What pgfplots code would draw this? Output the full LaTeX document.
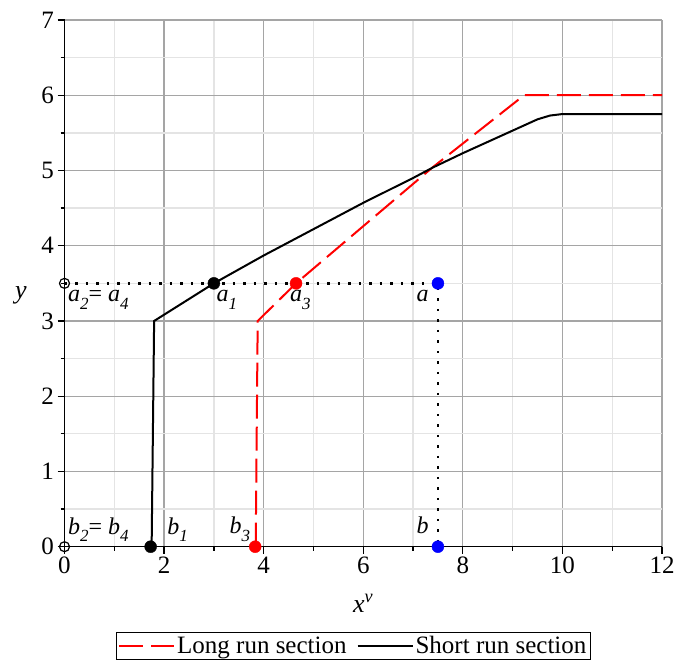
\documentclass[border=0pt]{standalone}
\usepackage{fontspec}
\setmainfont{Liberation Serif}
\usepackage{pgfplots}
\pgfplotsset{compat=1.18}
\definecolor{majgrid}{RGB}{165,165,165}
\definecolor{mingrid}{RGB}{228,228,228}
\newcommand{\lab}[2]{\textit{#1}\raisebox{-0.32em}{\fontsize{17}{17}\selectfont\textit{#2}}}

\begin{document}
\begin{tikzpicture}
\begin{axis}[
  scale only axis, width=597.5pt, height=526.7pt,
  xmin=0, xmax=12, ymin=0, ymax=7,
  axis lines=left, axis line style={-, line width=1.5pt},
  xtick={0,2,...,12}, ytick={0,1,...,7},
  minor xtick={1,3,...,11}, minor ytick={0.5,1.5,...,6.5},
  tick align=outside, major tick length=7pt, minor tick length=4pt,
  tick style={line width=1.3pt, black},
  grid=both,
  major grid style={majgrid, line width=1.3pt},
  minor grid style={mingrid, line width=1.3pt},
  ticklabel style={font=\rmfamily\fontsize{25}{25}\selectfont},
  /pgf/number format/assume math mode=true,
  clip=false,
  legend columns=2,
  legend style={at={(0.881,-0.162)}, anchor=north east, draw=black, line width=1pt,
    font=\fontsize{25}{28}\selectfont, inner sep=2pt,
    /tikz/every even column/.append style={column sep=8pt}},
  legend image code/.code={\draw[#1] (0pt,0pt) -- (55pt,0pt);},
]
\addplot[red, line width=2pt, dash pattern=on 24pt off 8pt] coordinates {
  (3.84,0) (3.88,3.0) (4.65,3.5) (5.68,4.08) (7.39,5.04) (9.23,6.0) (12,6.0)};
\addlegendentry{Long run section}
\addplot[black, line width=2pt] coordinates {
  (1.75,0) (1.80,3.0) (3,3.5) (4,3.87) (5,4.22) (6,4.57) (7,4.90) (7.4,5.04)
  (8,5.23) (9,5.53) (9.5,5.68) (9.75,5.73) (10,5.75) (12,5.75)};
\addlegendentry{Short run section}
\addplot[black, line width=2.5pt, dash pattern=on 2.5pt off 8pt, forget plot] coordinates {
  (0,3.5) (7.5,3.5) (7.5,0)};
\addplot[only marks, mark=*, mark size=6pt, black, forget plot] coordinates {(3,3.5) (1.73,0)};
\addplot[only marks, mark=*, mark size=6pt, red, forget plot] coordinates {(4.65,3.5) (3.83,0)};
\addplot[only marks, mark=*, mark size=6pt, blue, forget plot] coordinates {(7.5,3.5) (7.5,0)};
\addplot[only marks, mark=o, mark size=5pt, black, line width=1.2pt, forget plot] coordinates {(0,3.5) (0,0)};

\begin{scope}[every node/.style={inner sep=0pt, font=\fontsize{24}{24}\selectfont}]
\node[anchor=north west] at ([shift={(3.5pt,-7pt)}]axis cs:0,3.5) {\lab{a}{2}= \lab{a}{4}};
\node[anchor=north west] at ([shift={(2.5pt,-7pt)}]axis cs:3,3.5) {\lab{a}{1}};
\node[anchor=north west] at ([shift={(-6pt,-7pt)}]axis cs:4.65,3.5) {\lab{a}{3}};
\node[anchor=north east] at ([shift={(-9pt,-7pt)}]axis cs:7.5,3.5) {\textit{a}};
\node[anchor=base west] at ([shift={(3.5pt,12.7pt)}]axis cs:0,0) {\lab{b}{2}= \lab{b}{4}};
\node[anchor=base west] at ([shift={(3pt,12.7pt)}]axis cs:2,0) {\lab{b}{1}};
\node[anchor=base east] at ([shift={(-5pt,13pt)}]axis cs:3.83,0) {\lab{b}{3}};
\node[anchor=base east] at ([shift={(-9pt,13pt)}]axis cs:7.5,0) {\textit{b}};
\end{scope}
\node[anchor=base, font=\fontsize{26}{26}\selectfont] at (axis description cs:0.5,-0.124) {\textit{x}\textsuperscript{\textit{v}}};
\node[anchor=base, font=\fontsize{26}{26}\selectfont] at (axis description cs:-0.0728,0.472) {\textit{y}};
\coordinate (O) at (axis cs:0,0);
\end{axis}
\pgfresetboundingbox
\path[use as bounding box] ([shift={(-64.5pt,-117.3pt)}]O) rectangle ++(685pt,664pt);
\end{tikzpicture}
\end{document}
